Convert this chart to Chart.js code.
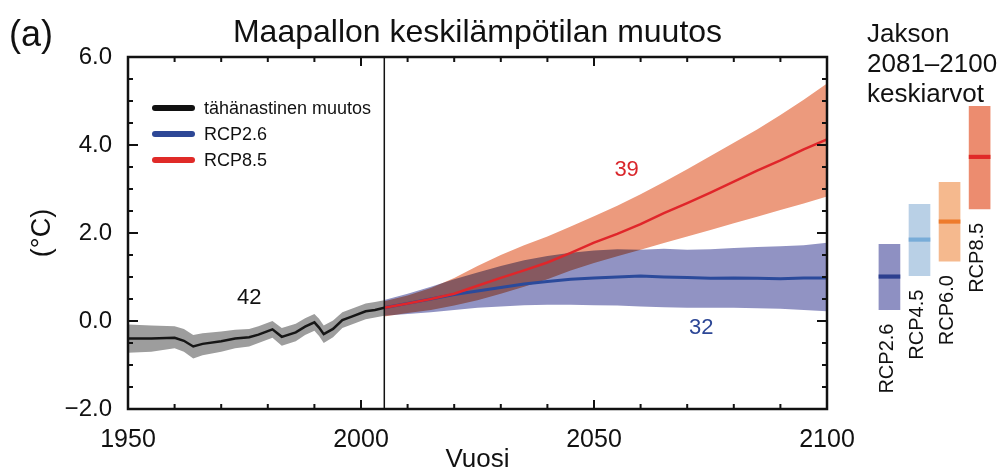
<!DOCTYPE html>
<html>
<head>
<meta charset="utf-8">
<script src="https://cdn.jsdelivr.net/npm/chart.js@4.4.0/dist/chart.umd.min.js"></script>
<style>
  html, body { margin: 0; padding: 0; background: #fff; }
  #wrap { width: 1006px; height: 475px; position: relative; }
</style>
</head>
<body>
<div id="wrap"><canvas id="grafico"></canvas></div>
<script>
// Havaittu muutos 1950-2005
const histYears = [1950, 1955, 1960, 1962, 1964, 1966, 1970, 1973, 1976, 1978, 1981, 1983, 1986, 1988, 1990, 1991, 1992, 1994, 1996, 1998, 2001, 2003, 2005];
const histMean  = [-0.40, -0.40, -0.38, -0.45, -0.58, -0.52, -0.46, -0.40, -0.37, -0.31, -0.19, -0.36, -0.26, -0.13, -0.03, -0.15, -0.30, -0.18, 0.02, 0.10, 0.22, 0.25, 0.30];
const histUpper = [-0.08, -0.10, -0.12, -0.18, -0.32, -0.28, -0.24, -0.20, -0.18, -0.12, 0.00, -0.16, -0.06, 0.06, 0.16, 0.05, -0.10, 0.01, 0.20, 0.28, 0.40, 0.43, 0.47];
const histLower = [-0.72, -0.70, -0.62, -0.70, -0.85, -0.78, -0.70, -0.62, -0.58, -0.50, -0.38, -0.56, -0.46, -0.32, -0.22, -0.34, -0.50, -0.37, -0.16, -0.08, 0.04, 0.08, 0.12];

// Skenaariot 2005-2100
const projYears = [2005, 2010, 2015, 2020, 2025, 2030, 2035, 2040, 2045, 2050, 2055, 2060, 2065, 2070, 2075, 2080, 2085, 2090, 2095, 2100];
const rcp26Mean  = [0.30, 0.40, 0.50, 0.60, 0.68, 0.76, 0.84, 0.90, 0.95, 0.98, 1.00, 1.02, 1.00, 0.99, 0.97, 0.98, 0.97, 0.96, 0.98, 0.98];
const rcp26Upper = [0.48, 0.62, 0.78, 0.95, 1.10, 1.25, 1.38, 1.48, 1.55, 1.60, 1.63, 1.62, 1.64, 1.62, 1.63, 1.66, 1.68, 1.70, 1.72, 1.78];
const rcp26Lower = [0.12, 0.16, 0.20, 0.25, 0.30, 0.33, 0.36, 0.37, 0.37, 0.36, 0.35, 0.33, 0.31, 0.30, 0.30, 0.30, 0.29, 0.28, 0.25, 0.22];
const rcp85Mean  = [0.30, 0.40, 0.50, 0.62, 0.80, 0.98, 1.15, 1.33, 1.55, 1.78, 1.98, 2.20, 2.45, 2.68, 2.92, 3.17, 3.42, 3.65, 3.90, 4.13];
const rcp85Upper = [0.45, 0.58, 0.75, 0.98, 1.25, 1.50, 1.72, 1.92, 2.15, 2.38, 2.62, 2.88, 3.16, 3.45, 3.75, 4.05, 4.35, 4.68, 5.03, 5.40];
const rcp85Lower = [0.10, 0.18, 0.25, 0.35, 0.47, 0.62, 0.78, 0.95, 1.15, 1.32, 1.47, 1.62, 1.77, 1.92, 2.07, 2.22, 2.37, 2.52, 2.67, 2.83];

// Jakson 2081-2100 keskiarvot
const periodNames = ["RCP2.6", "RCP4.5", "RCP6.0", "RCP8.5"];
const periodLow   = [0.26, 1.03, 1.36, 2.55];
const periodHigh  = [1.74, 2.65, 3.15, 4.88];
const periodMean  = [1.01, 1.85, 2.26, 3.73];

// Mallien lukumäärät
const countTexts  = ["42", "39", "32"];
const countYears  = [1976, 2057, 2073];
const countValues = [0.53, 3.44, -0.15];

const splitYear = 2005;

const pts = (xs, ys) => xs.map((x, i) => ({ x: x, y: ys[i] }));
const FONT = "'Liberation Sans', Arial, sans-serif";

const barColors  = ["#8e90c2", "#b9d0e6", "#f5b98e", "#ec8c6f"];
const meanColors = ["#2c3f8f", "#78acd8", "#ee7b2c", "#e02a28"];
// sivupaneelin palkit oikealle kuvaajan ulkopuolelle
const panelX = periodNames.map((n, i) => 2113.4 + i * 6.45);

const ctx = document.getElementById("grafico").getContext("2d");

const bandOpts = { pointRadius: 0, borderWidth: 0, tension: 0 };

// sininen vyö sekoittuu punaiseen (multiply)
const BLUE_BAND = 6, BLUE_BAND_LOW = 7;
const blend = {
  id: "blend",
  beforeDatasetDraw(chart, args) {
    if (args.index === BLUE_BAND_LOW) chart.ctx.globalCompositeOperation = "multiply";
  },
  afterDatasetDraw(chart, args) {
    if (args.index === BLUE_BAND) chart.ctx.globalCompositeOperation = "source-over";
  }
};

const extras = {
  id: "extras",
  afterDatasetsDraw(chart) {
    const { ctx, chartArea: a, scales: { x, y } } = chart;
    ctx.save();
    ctx.globalCompositeOperation = "source-over";
    // 2005 pystyviiva
    const xs = x.getPixelForValue(splitYear);
    ctx.strokeStyle = "#111";
    ctx.lineWidth = 1.5;
    ctx.beginPath();
    ctx.moveTo(xs, a.top);
    ctx.lineTo(xs, a.bottom);
    ctx.stroke();

    // sisäänpäin osoittavat tikit
    ctx.lineWidth = 2;
    ctx.beginPath();
    for (let yr = 1960; yr < 2100; yr += 10) {
      const len = yr % 50 === 0 ? 9 : 5;
      const px = x.getPixelForValue(yr);
      ctx.moveTo(px, a.bottom); ctx.lineTo(px, a.bottom - len);
      ctx.moveTo(px, a.top); ctx.lineTo(px, a.top + len);
    }
    for (let v = -1.5; v < 6; v += 0.5) {
      const len = v % 2 === 0 ? 10 : 5;
      const py = y.getPixelForValue(v);
      ctx.moveTo(a.left, py); ctx.lineTo(a.left + len, py);
      ctx.moveTo(a.right, py); ctx.lineTo(a.right - len, py);
    }
    ctx.stroke();

    // kehys
    ctx.lineWidth = 2.5;
    ctx.strokeRect(a.left, a.top, a.right - a.left, a.bottom - a.top);

    // mallien lukumäärät
    ctx.font = "22px " + FONT;
    ctx.textAlign = "center";
    ctx.textBaseline = "middle";
    const cc = ["#111", "#d9262b", "#2d4796"];
    countTexts.forEach((t, i) => {
      ctx.fillStyle = cc[i];
      ctx.fillText(t, x.getPixelForValue(countYears[i]), y.getPixelForValue(countValues[i]));
    });

    // selite
    const leg = [["tähänastinen muutos", "#111"], ["RCP2.6", "#2d4796"], ["RCP8.5", "#e02a28"]];
    ctx.font = "18px " + FONT;
    ctx.textAlign = "left";
    ctx.lineCap = "round";
    ctx.lineWidth = 6;
    leg.forEach((l, i) => {
      const ly = a.top + 51 + i * 26;
      ctx.strokeStyle = l[1];
      ctx.beginPath();
      ctx.moveTo(a.left + 27, ly);
      ctx.lineTo(a.left + 64, ly);
      ctx.stroke();
      ctx.fillStyle = "#111";
      ctx.fillText(l[0], a.left + 76, ly + 1);
    });
    ctx.restore();
  },
  afterDraw(chart) {
    const { ctx, chartArea: a } = chart;
    ctx.save();
    ctx.fillStyle = "#111";
    ctx.textBaseline = "alphabetic";
    // otsikko
    ctx.font = "32px " + FONT;
    ctx.textAlign = "center";
    ctx.fillText("Maapallon keskilämpötilan muutos", (a.left + a.right) / 2, 42);
    ctx.font = "36px " + FONT;
    ctx.textAlign = "left";
    ctx.fillText("(a)", 9, 46);
    // sivupaneelin otsikko
    ctx.font = "26px " + FONT;
    ["Jakson", "2081–2100", "keskiarvot"].forEach((t, i) => {
      ctx.fillText(t, 867, 42 + i * 30);
    });
    // pystysuorat nimet palkkien alle
    const meta = chart.getDatasetMeta(0);
    ctx.font = "20px " + FONT;
    ctx.textAlign = "right";
    ctx.textBaseline = "middle";
    meta.data.forEach((bar, i) => {
      const bottom = Math.max(bar.y, bar.base);
      ctx.save();
      ctx.translate(bar.x - 2, bottom + 14);
      ctx.rotate(-Math.PI / 2);
      ctx.fillText(periodNames[i], 0, 0);
      ctx.restore();
    });
    ctx.restore();
  }
};

new Chart(ctx, {
  type: "line",
  data: {
    datasets: [
      {
        type: "bar",
        data: periodNames.map((n, i) => ({ x: panelX[i], y: [periodLow[i], periodHigh[i]] })),
        backgroundColor: barColors,
        barThickness: 21,
        grouped: false,
        clip: false,
        order: 5
      },
      {
        type: "bar",
        data: periodNames.map((n, i) => ({ x: panelX[i], y: [periodMean[i] - 0.04, periodMean[i] + 0.04] })),
        backgroundColor: meanColors,
        barThickness: 21,
        grouped: false,
        clip: false,
        order: 4
      },
      { data: pts(histYears, histUpper), fill: "+1", backgroundColor: "#9d9d9d", ...bandOpts, order: 10 },
      { data: pts(histYears, histLower), fill: false, ...bandOpts, order: 10 },
      { data: pts(projYears, rcp85Upper), fill: "+1", backgroundColor: "#ec9a7d", ...bandOpts, order: 9 },
      { data: pts(projYears, rcp85Lower), fill: false, ...bandOpts, order: 9 },
      { data: pts(projYears, rcp26Upper), fill: "+1", backgroundColor: "#9193c3", ...bandOpts, order: 8 },
      { data: pts(projYears, rcp26Lower), fill: false, ...bandOpts, order: 8 },
      { data: pts(histYears, histMean), borderColor: "#161616", borderWidth: 2.5, pointRadius: 0, order: 3 },
      { data: pts(projYears, rcp26Mean), borderColor: "#2b4a9b", borderWidth: 3, pointRadius: 0, order: 2 },
      { data: pts(projYears, rcp85Mean), borderColor: "#e0262a", borderWidth: 2.5, pointRadius: 0, order: 1 }
    ]
  },
  options: {
    responsive: true,
    maintainAspectRatio: false,
    animation: false,
    layout: { padding: { top: 57, right: 179, left: 0, bottom: 0 } },
    plugins: {
      legend: { display: false },
      tooltip: { enabled: false }
    },
    scales: {
      x: {
        type: "linear",
        min: 1950,
        max: 2100,
        offset: false,
        grid: { display: false, drawTicks: false, offset: false },
        border: { display: false },
        ticks: {
          stepSize: 50,
          padding: 16,
          color: "#111",
          font: { family: FONT, size: 25 },
          callback: (v) => String(v)
        },
        title: {
          display: true,
          text: "Vuosi",
          color: "#111",
          font: { family: FONT, size: 26 },
          padding: { top: 0, bottom: 0 }
        },
        afterFit: (s) => { s.height = 66; }
      },
      y: {
        type: "linear",
        min: -2,
        max: 6,
        beginAtZero: false,
        grid: { display: false, drawTicks: false },
        border: { display: false },
        ticks: {
          stepSize: 2,
          padding: 16,
          color: "#111",
          font: { family: FONT, size: 24 },
          callback: (v) => (v < 0 ? "\u2212" : "") + Math.abs(v).toFixed(1)
        },
        title: {
          display: true,
          text: "(°C)",
          color: "#111",
          font: { family: FONT, size: 27 },
          padding: { top: 26, bottom: 0 }
        },
        afterFit: (s) => { s.width = 128; }
      }
    }
  },
  plugins: [blend, extras]
});
</script>
</body>
</html>
